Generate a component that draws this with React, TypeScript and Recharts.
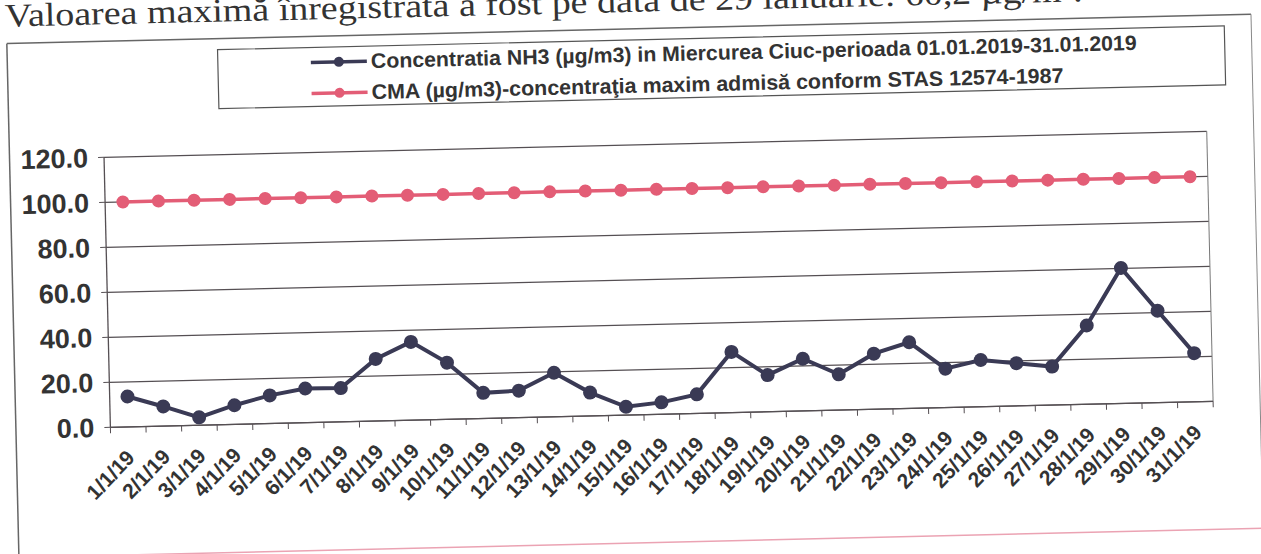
import React from "react";
import { LineChart, Line, XAxis, YAxis, CartesianGrid, ReferenceLine } from "recharts";

const dateLabels = [
  "1/1/19", "2/1/19", "3/1/19", "4/1/19", "5/1/19", "6/1/19", "7/1/19", "8/1/19",
  "9/1/19", "10/1/19", "11/1/19", "12/1/19", "13/1/19", "14/1/19", "15/1/19", "16/1/19",
  "17/1/19", "18/1/19", "19/1/19", "20/1/19", "21/1/19", "22/1/19", "23/1/19", "24/1/19",
  "25/1/19", "26/1/19", "27/1/19", "28/1/19", "29/1/19", "30/1/19", "31/1/19",
];

// NH3 daily concentration (µg/m3), Miercurea Ciuc, January 2019
const nh3Values = [
  13.5, 8.7, 3.5, 8.5, 12.5, 15.2, 15.0, 27.6, 34.8, 25.2, 11.4, 12.0, 19.6, 10.4, 3.7, 5.3,
  8.5, 27.0, 16.3, 23.2, 15.9, 24.7, 29.4, 17.3, 20.8, 19.0, 17.1, 35.0, 60.2, 40.8, 21.6,
];

// CMA limit (STAS 12574-1987)
const cmaValues = [
  100, 100, 100, 100, 100, 100, 100, 100, 100, 100, 100, 100, 100, 100, 100, 100,
  100, 100, 100, 100, 100, 100, 100, 100, 100, 100, 100, 100, 100, 100, 100,
];

const yTicks = [0, 20, 40, 60, 80, 100, 120];

const seriesNames = [
  "Concentratia NH3 (µg/m3) in Miercurea Ciuc-perioada 01.01.2019-31.01.2019",
  "CMA (µg/m3)-concentraţia maxim admisă conform STAS 12574-1987",
];

const NAVY = "#3a3a55";
const PINK = "#e35d76";
const GRID = "#554f53";
const TEXT = "#333";
const FONT = "'Liberation Sans', Arial, sans-serif";

const data = dateLabels.map((label, i) => ({
  pos: i + 1,
  label,
  nh3: nh3Values[i],
  cma: cmaValues[i],
}));

// category centres get labels, category edges get tick marks
const xTicks: number[] = [0.5];
dateLabels.forEach((_, i) => {
  xTicks.push(i + 1, i + 1.5);
});

function DateTick(props: any) {
  const { x, y, payload } = props;
  const v = payload.value;
  if (!Number.isInteger(v)) {
    return <line x1={x} y1={y} x2={x} y2={y + 6} stroke={GRID} strokeWidth={1} />;
  }
  const ax = x + 7;
  const ay = y + 32;
  return (
    <text
      x={ax}
      y={ay}
      transform={`rotate(-45 ${ax} ${ay})`}
      textAnchor="end"
      fontSize={21}
      fontWeight="bold"
      fontFamily={FONT}
      fill={TEXT}
    >
      {dateLabels[v - 1]}
    </text>
  );
}

function LegendItem({ color, name, y, width }: { color: string; name: string; y: number; width: number }) {
  return (
    <g>
      <line x1={316} y1={y} x2={372} y2={y} stroke={color} strokeWidth={3.5} />
      <circle cx={344} cy={y} r={5} fill={color} />
      <text
        x={376}
        y={y + 7}
        fontSize={21}
        fontWeight="bold"
        fontFamily={FONT}
        fill={TEXT}
        textLength={width}
        lengthAdjust="spacingAndGlyphs"
      >
        {name}
      </text>
    </g>
  );
}

export default function App() {
  return (
    <div
      style={{
        position: "absolute",
        left: 0,
        top: 0,
        width: 1261,
        height: 554,
        background: "#fff",
        transform: "rotate(-1.35deg)",
        transformOrigin: "630px 277px",
      }}
    >
      <svg width={1261} height={554} style={{ position: "absolute", left: 0, top: 0, overflow: "visible" }}>
        <text
          x={11}
          y={12}
          fontSize={33}
          fontFamily="'Liberation Serif', 'Times New Roman', serif"
          fill={TEXT}
          textLength={1078}
          lengthAdjust="spacingAndGlyphs"
        >
          Valoarea maximă înregistrată a fost pe data de 29 ianuarie: 60,2 µg/m³.
        </text>
        <line x1={12.5} y1={29} x2={1257} y2={29} stroke="#666" strokeWidth={1.5} />
        <line x1={12.5} y1={29} x2={12.5} y2={543} stroke="#666" strokeWidth={1.5} />
        <line x1={1257} y1={29} x2={1257} y2={543} stroke="#888" strokeWidth={1} />
        <line x1={12.5} y1={543} x2={1257} y2={543} stroke="#eba3b3" strokeWidth={1.5} />
        <rect x={223} y={40} width={1007} height={59} fill="#fff" stroke="#555" strokeWidth={1.2} />
        <LegendItem color={NAVY} name={seriesNames[0]} y={55} width={766} />
        <LegendItem color={PINK} name={seriesNames[1]} y={86} width={692} />
      </svg>
      <div style={{ position: "absolute", left: 0, top: 0 }}>
        <LineChart width={1261} height={554} data={data} margin={{ top: 145, right: 51, bottom: 39, left: 0 }}>
          <CartesianGrid horizontal vertical={false} stroke={GRID} strokeWidth={1.2} />
          <XAxis
            dataKey="pos"
            type="number"
            domain={[0.5, 31.5]}
            ticks={xTicks}
            interval={0}
            tickSize={0}
            tickMargin={0}
            tickLine={false}
            tick={<DateTick />}
            axisLine={{ stroke: GRID, strokeWidth: 1.3 }}
            height={100}
          />
          <YAxis
            domain={[0, 120]}
            ticks={yTicks}
            interval={0}
            width={107}
            tickSize={6}
            tickMargin={10}
            tickFormatter={(v: number) => v.toFixed(1)}
            tick={{ fontSize: 27, fontWeight: "bold", fontFamily: FONT, fill: TEXT }}
            axisLine={{ stroke: GRID, strokeWidth: 1.3 }}
            tickLine={{ stroke: GRID }}
          />
          <ReferenceLine x={31.5} stroke="#777" strokeWidth={1} />
          <Line
            type="linear"
            dataKey="cma"
            name={seriesNames[1]}
            stroke={PINK}
            strokeWidth={3.5}
            dot={{ r: 6.5, fill: PINK, stroke: PINK, strokeWidth: 0 }}
            isAnimationActive={false}
          />
          <Line
            type="linear"
            dataKey="nh3"
            name={seriesNames[0]}
            stroke={NAVY}
            strokeWidth={4}
            dot={{ r: 7, fill: NAVY, stroke: NAVY, strokeWidth: 0 }}
            isAnimationActive={false}
          />
        </LineChart>
      </div>
    </div>
  );
}
